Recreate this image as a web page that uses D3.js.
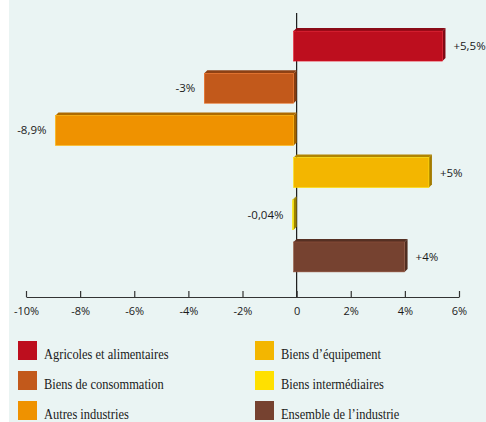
<!DOCTYPE html>
<html><head><meta charset="utf-8">
<script src="https://cdn.jsdelivr.net/npm/d3@7"></script>
<style>html,body{margin:0;padding:0;background:#fff;}svg{display:block;}</style>
</head><body>
<svg id="c" width="486" height="422"></svg>
<script>
const categories = ["Agricoles et alimentaires","Biens de consommation","Autres industries","Biens d\u2019\u00e9quipement","Biens interm\u00e9diaires","Ensemble de l\u2019industrie"];
const values = [5.5, -3.3, -8.8, 5.0, -0.04, 4.1];
const valueLabels = ["+5,5%","-3%","-8,9%","+5%","-0,04%","+4%"];
const legendColors = ["#bd0e1e","#c2591b","#ef9200","#f3b600","#ffe000","#764230"];
const barColors = ["#bd0e1e","#c2591b","#ef9200","#f3b600","#e8c000","#764230"];
const tickValues = [-10,-8,-6,-4,-2,0,2,4,6];
const tickLabels = ["-10%","-8%","-6%","-4%","-2%","0","2%","4%","6%"];
const legendOrder = [0,3,1,4,2,5];

const svg = d3.select("#c");
svg.append("rect").attr("x",9).attr("y",0).attr("width",477).attr("height",422).attr("fill","#eaf4f3");

const x = d3.scaleLinear().domain([-10,6]).range([26,459]);
const y = d3.scaleBand().domain(categories).range([25,278]).paddingInner(0.29).paddingOuter(0.145);
const bw = y.bandwidth();
const D = 3;

svg.append("line").attr("x1",x(0)).attr("x2",x(0)).attr("y1",13).attr("y2",297)
  .attr("stroke","#1a1a1a").attr("stroke-width",1.2);

const g = svg.append("g");
categories.forEach((c,i)=>{
  const v = values[i];
  const bx0 = x(Math.min(0,v)), bx1 = x(Math.max(0,v));
  const fy = y(c);
  const fx0 = bx0 - D, fx1 = bx1 - D;
  const col = d3.color(barColors[i]);
  const dark = col.darker(0.9).formatHex();
  const darker = col.darker(1.1).formatHex();
  g.append("path").attr("d",`M${fx0},${fy}L${bx0},${fy-D}L${bx1},${fy-D}L${fx1},${fy}Z`).attr("fill",dark);
  g.append("path").attr("d",`M${fx1},${fy}L${bx1},${fy-D}L${bx1},${fy-D+bw}L${fx1},${fy+bw}Z`).attr("fill",darker);
  g.append("rect").attr("x",fx0).attr("y",fy).attr("width",Math.max(0.5,fx1-fx0)).attr("height",bw)
    .attr("fill",barColors[i]).attr("stroke",col.brighter(0.6).formatHex()).attr("stroke-width",0.6);
  const lx = v>=0 ? x(v)+8 : Math.min(x(v)-12, x(0)-6);
  g.append("text").attr("x",lx).attr("y",fy+bw/2).attr("dy","0.35em")
    .attr("text-anchor", v>=0 ? "start":"end")
    .attr("font-family","'Open Sans', sans-serif").attr("font-size",11.5).attr("fill","#1a1a1a")
    .text(valueLabels[i]);
});

const axis = d3.axisBottom(x).tickValues(tickValues).tickSizeInner(-6).tickSizeOuter(0).tickPadding(10)
  .tickFormat((d,i)=>tickLabels[i]);
const ag = svg.append("g").attr("transform","translate(0,297)").call(axis);
ag.select(".domain").attr("stroke","#333").attr("stroke-width",1.2);
ag.selectAll(".tick line").attr("stroke","#333").attr("stroke-width",1.2);
ag.selectAll(".tick text").attr("font-family","'Open Sans', sans-serif").attr("font-size",11).attr("fill","#1a1a1a");

const lg = svg.append("g");
legendOrder.forEach((idx,k)=>{
  const col = k%2, row = Math.floor(k/2);
  const sx = col===0 ? 18 : 255;
  const sy = 341 + row*30;
  lg.append("rect").attr("x",sx).attr("y",sy).attr("width",19).attr("height",19).attr("fill",legendColors[idx]);
  lg.append("text").attr("transform",`translate(${sx+26},${sy+17.5}) scale(0.86,1)`)
    .attr("font-family","'Liberation Serif', serif").attr("font-size",14.5).attr("fill","#1a1a1a")
    .text(categories[idx]);
});
</script>
</body></html>
